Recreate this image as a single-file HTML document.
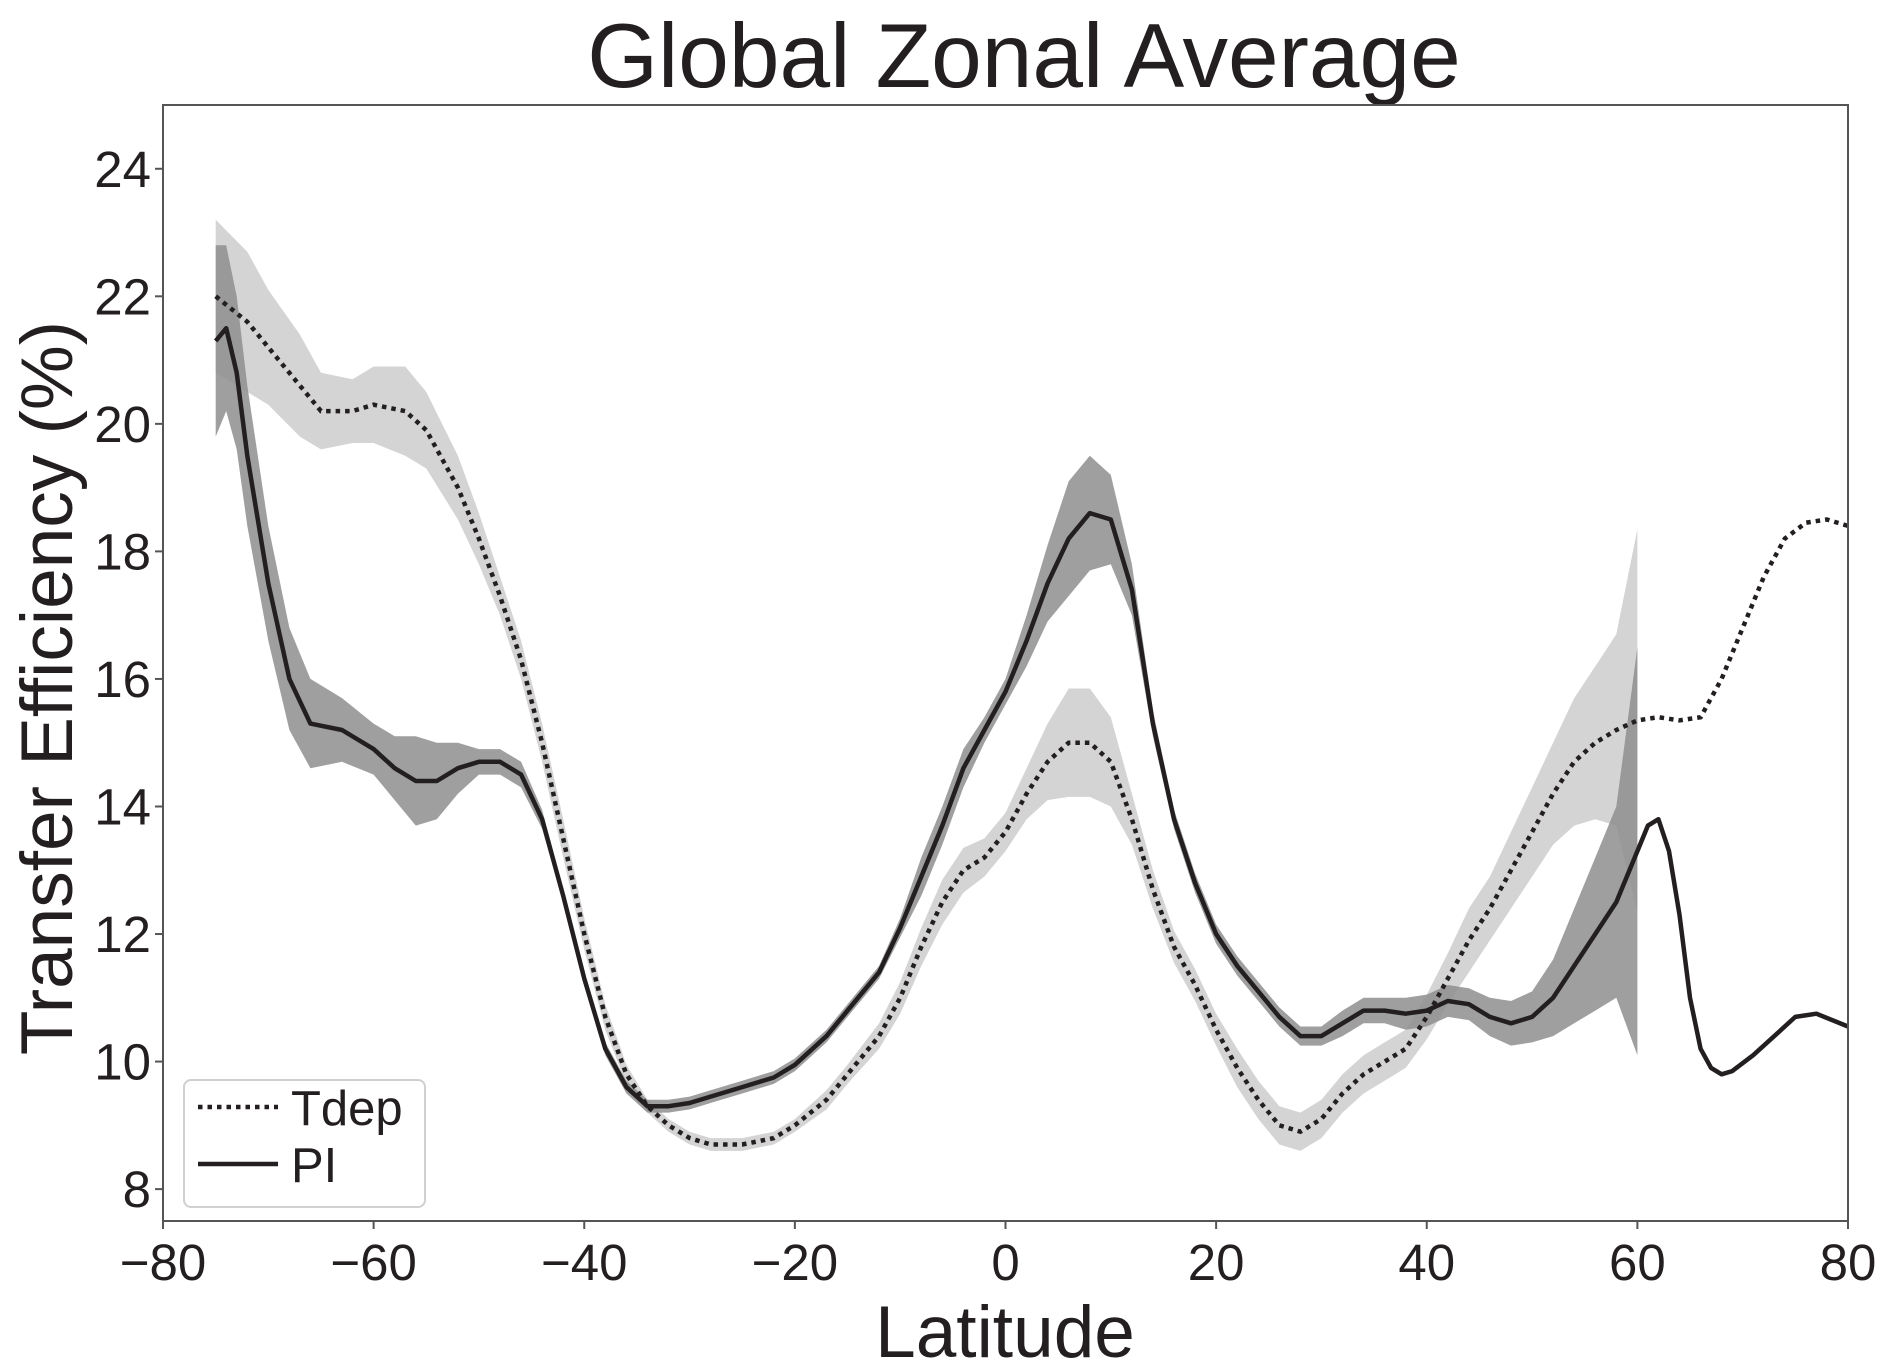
<!DOCTYPE html>
<html><head><meta charset="utf-8"><style>
html,body{margin:0;padding:0;background:#fff;}
svg{display:block;font-family:"Liberation Sans",Arial,sans-serif;}
</style></head><body>
<svg id="chart" width="1892" height="1372" viewBox="0 0 1892 1372" xmlns="http://www.w3.org/2000/svg"></svg>
<script>
const xTicks=[-80,-60,-40,-20,0,20,40,60,80];
const yTicks=[8,10,12,14,16,18,20,22,24];
const tdepLat=[-75,-72,-70,-67,-65,-62,-60,-57,-55,-52,-50,-48,-46,-44,-42,-40,-38,-36,-34,-32,-30,-28,-25,-22,-20,-17,-15,-12,-10,-8,-6,-4,-2,0,2,4,6,8,10,12,14,16,18,20,22,24,26,28,30,32,34,36,38,40,42,44,46,48,50,52,54,56,58,60,62,64,66,68,70,72,74,76,78,80];
const tdepVal=[22.0,21.6,21.2,20.6,20.2,20.2,20.3,20.2,19.9,19.0,18.2,17.3,16.3,15.0,13.5,12.0,10.7,9.8,9.3,9.0,8.8,8.7,8.7,8.8,9.0,9.4,9.8,10.4,11.0,11.8,12.5,13.0,13.2,13.6,14.2,14.7,15.0,15.0,14.7,13.8,12.7,11.8,11.2,10.5,9.9,9.4,9.0,8.9,9.1,9.5,9.8,10.0,10.2,10.7,11.3,11.9,12.4,13.0,13.6,14.2,14.7,15.0,15.2,15.35,15.4,15.35,15.4,16.0,16.8,17.6,18.2,18.45,18.5,18.4];
const tdepErr=[1.2,1.1,0.9,0.8,0.6,0.5,0.6,0.7,0.6,0.5,0.4,0.3,0.3,0.3,0.3,0.25,0.2,0.15,0.1,0.1,0.1,0.1,0.1,0.1,0.1,0.15,0.15,0.2,0.25,0.3,0.35,0.35,0.3,0.3,0.4,0.6,0.85,0.85,0.7,0.4,0.3,0.25,0.25,0.25,0.3,0.3,0.3,0.3,0.3,0.3,0.3,0.3,0.3,0.35,0.4,0.5,0.5,0.6,0.7,0.8,1.0,1.2,1.5,3.0,null,null,null,null,null,null,null,null,null,null];
const piLat=[-75,-74,-73,-72,-70,-68,-66,-63,-60,-58,-56,-54,-52,-50,-48,-46,-44,-42,-40,-38,-36,-34,-32,-30,-28,-25,-22,-20,-17,-15,-12,-10,-8,-6,-4,-2,0,2,4,6,8,10,12,14,16,18,20,22,24,26,28,30,32,34,36,38,40,42,44,46,48,50,52,54,56,58,60,61,62,63,64,65,66,67,68,69,71,73,75,77,80];
const piVal=[21.3,21.5,20.8,19.5,17.5,16.0,15.3,15.2,14.9,14.6,14.4,14.4,14.6,14.7,14.7,14.5,13.8,12.6,11.3,10.2,9.6,9.3,9.3,9.35,9.45,9.6,9.75,9.95,10.4,10.8,11.4,12.1,12.9,13.7,14.6,15.2,15.8,16.6,17.5,18.2,18.6,18.5,17.4,15.3,13.8,12.8,12.0,11.5,11.1,10.7,10.4,10.4,10.6,10.8,10.8,10.75,10.8,10.95,10.9,10.7,10.6,10.7,11.0,11.5,12.0,12.5,13.3,13.7,13.8,13.3,12.3,11.0,10.2,9.9,9.8,9.85,10.1,10.4,10.7,10.75,10.55];
const piErr=[1.5,1.3,1.2,1.1,0.9,0.8,0.7,0.5,0.4,0.5,0.7,0.6,0.4,0.2,0.2,0.2,0.15,0.1,0.1,0.1,0.1,0.1,0.1,0.1,0.1,0.1,0.1,0.1,0.1,0.1,0.1,0.15,0.3,0.3,0.3,0.2,0.2,0.4,0.6,0.9,0.9,0.7,0.4,0.2,0.15,0.15,0.15,0.15,0.15,0.15,0.15,0.15,0.2,0.2,0.2,0.25,0.25,0.25,0.25,0.3,0.35,0.4,0.6,0.9,1.2,1.5,3.2,null,null,null,null,null,null,null,null,null,null,null,null,null,null];

const L=163,R=1848,T=105,B=1221,XMIN=-80,XMAX=80,YMIN=7.5,YMAX=25;
const sx=v=>L+(v-XMIN)/(XMAX-XMIN)*(R-L);
const sy=v=>B-(v-YMIN)/(YMAX-YMIN)*(B-T);
const NS="http://www.w3.org/2000/svg";
const svg=document.getElementById('chart');
function mk(tag,attrs,parent){const e=document.createElementNS(NS,tag);for(const k in attrs)e.setAttribute(k,attrs[k]);(parent||svg).appendChild(e);return e;}
function linePath(lat,val){return lat.map((x,i)=>(i?'L':'M')+sx(x).toFixed(1)+','+sy(val[i]).toFixed(1)).join('');}
function bandPath(lat,val,err){const up=[],lo=[];lat.forEach((x,i)=>{if(err[i]!=null){up.push([sx(x),sy(val[i]+err[i])]);lo.push([sx(x),sy(val[i]-err[i])]);}});lo.reverse();return 'M'+up.concat(lo).map(p=>p[0].toFixed(1)+','+p[1].toFixed(1)).join('L')+'Z';}

const t=mk('text',{x:1024,y:87,'font-size':91,'text-anchor':'middle',fill:'#231f20'});t.textContent='Global Zonal Average';



const b1=mk('path',{d:bandPath(tdepLat,tdepVal,tdepErr),fill:'#d4d4d4'});


const b2=mk('path',{d:bandPath(piLat,piVal,piErr),fill:'#8e8e8e','fill-opacity':'0.85'});


const l1=mk('path',{d:linePath(tdepLat,tdepVal),fill:'none',stroke:'#231f20','stroke-width':4.5,'stroke-dasharray':'4.5 5'});


const l2=mk('path',{d:linePath(piLat,piVal),fill:'none',stroke:'#231f20','stroke-width':4.5,'stroke-linejoin':'round'});



const frame=mk('rect',{x:L,y:T,width:R-L,height:B-T,fill:'none',stroke:'#555','stroke-width':2});



xTicks.forEach(v=>{
  const tk=mk('line',{x1:sx(v),x2:sx(v),y1:B,y2:B+8,stroke:'#555','stroke-width':2});
  
  
  const tx=mk('text',{x:sx(v),y:1280,'font-size':51,'text-anchor':'middle',fill:'#231f20'});
  tx.textContent=v<0?'\u2212'+(-v):String(v);
  
  
});
yTicks.forEach(v=>{
  const tk=mk('line',{x1:L-8,x2:L,y1:sy(v),y2:sy(v),stroke:'#555','stroke-width':2});
  
  
  const tx=mk('text',{x:L-12,y:sy(v)+18,'font-size':51,'text-anchor':'end',fill:'#231f20'});
  tx.textContent=String(v);
  
  
});
const xl=mk('text',{x:1005,y:1357,'font-size':73,'text-anchor':'middle',fill:'#231f20'});xl.textContent='Latitude';


const yl=mk('text',{x:0,y:0,'font-size':73,'text-anchor':'middle',fill:'#231f20',transform:'translate(72,688) rotate(-90)'});yl.textContent='Transfer Efficiency (%)';



const lg=mk('g',{});


mk('rect',{x:184,y:1080,width:241,height:127,rx:7,fill:'#fff','fill-opacity':0.85,stroke:'#d0d0d0','stroke-width':2},lg);
const e1=mk('line',{x1:198,x2:278,y1:1107,y2:1107,stroke:'#231f20','stroke-width':4.5,'stroke-dasharray':'4.5 5'},lg);


const et1=mk('text',{x:291,y:1125,'font-size':49,fill:'#231f20'},lg);et1.textContent='Tdep';


const e2=mk('line',{x1:198,x2:278,y1:1164,y2:1164,stroke:'#231f20','stroke-width':4.5},lg);


const et2=mk('text',{x:291,y:1182,'font-size':49,fill:'#231f20'},lg);et2.textContent='PI';


</script>
</body></html>
